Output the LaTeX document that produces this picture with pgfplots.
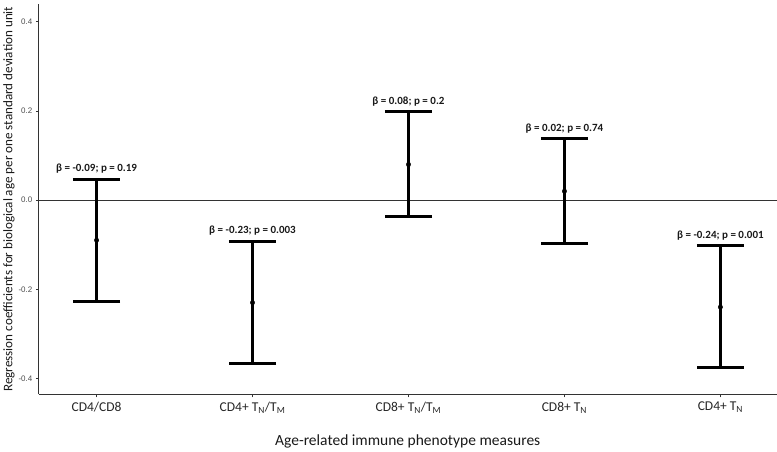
\documentclass[border=0pt]{standalone}
\usepackage{pgfplots}
\usepackage{pgfplotstable}
\pgfplotsset{compat=1.18}
\usepackage{fontspec}
\setmainfont{Carlito}
\newfontfamily\arialfont{Liberation Sans}
\definecolor{axgray}{HTML}{333333}
\definecolor{tickgray}{HTML}{4D4D4D}
\protected\def\EQ{=}
\protected\def\SC{;}
\pgfplotstableread[col sep=comma]{
x,y,up,lo,lab
0,-0.09,0.047,-0.227,{β \EQ{} -0.09\SC{} p \EQ{} 0.19}
1,-0.23,-0.092,-0.366,{β \EQ{} -0.23\SC{} p \EQ{} 0.003}
2,0.08,0.198,-0.036,{β \EQ{} 0.08\SC{} p \EQ{} 0.2}
3,0.02,0.138,-0.097,{β \EQ{} 0.02\SC{} p \EQ{} 0.74}
4,-0.24,-0.102,-0.375,{β \EQ{} -0.24\SC{} p \EQ{} 0.001}
}\datatable
\pgfplotstablecreatecol[create col/expr={\thisrow{up}-\thisrow{y}}]{eplus}\datatable
\pgfplotstablecreatecol[create col/expr={\thisrow{y}-\thisrow{lo}}]{eminus}\datatable
\begin{document}
\begin{tikzpicture}
\begin{axis}[
  scale only axis,
  width=735bp, height=389bp,
  xmin=-0.37, xmax=4.36,
  ymin=-0.436, ymax=0.44,
  xtick={0,1,2,3,4},
  xticklabels={CD4/CD8, CD4+ T\textsubscript{N}/T\textsubscript{M}, CD8+ T\textsubscript{N}/T\textsubscript{M}, CD8+ T\textsubscript{N}, CD4+ T\textsubscript{N}},
  ytick={-0.4,-0.2,0,0.2,0.4},
  yticklabel style={/pgf/number format/fixed, /pgf/number format/fixed zerofill, /pgf/number format/precision=1, /pgf/number format/assume math mode=true, font=\arialfont\fontsize{8}{9}\selectfont, text=tickgray},
  xticklabel style={font=\fontsize{13.5}{15}\selectfont, text=black!85, yshift=-1bp},
  axis x line*=bottom, axis y line*=left,
  axis line style={axgray, line width=0.9bp, -},
  tick style={axgray, line width=0.8bp},
  tick align=outside, major tick length=3bp,
  xlabel={Age-related immune phenotype measures},
  ylabel={Regression coefficients for biological age per one standard deviation unit},
  xlabel style={font=\fontsize{15.5}{17}\selectfont, text=black!90, yshift=-14bp},
  ylabel style={font=\fontsize{13.1}{15}\selectfont, text=black!90, yshift=-3bp},
  clip=false,
]
\addplot[axgray, line width=0.9bp, forget plot] coordinates {(-0.37,0) (4.36,0)};
\addplot[
  only marks, mark=*, mark size=2.2bp, black,
  error bars/.cd, y dir=both, y explicit,
  error bar style={line width=2.8bp, black},
  error mark options={rotate=90, mark size=23.5bp, line width=2.8bp, black},
] table[x=x, y=y, y error plus=eplus, y error minus=eminus] {\datatable};
\addplot[
  only marks, mark=none,
  point meta=explicit symbolic,
  nodes near coords,
  nodes near coords style={font=\bfseries\fontsize{11}{13}\selectfont, anchor=south, yshift=2bp, text=black!90},
] table[x=x, y=up, meta=lab] {\datatable};
\end{axis}
\path (current axis.north west) ++(0,4bp);
\end{tikzpicture}
\end{document}
